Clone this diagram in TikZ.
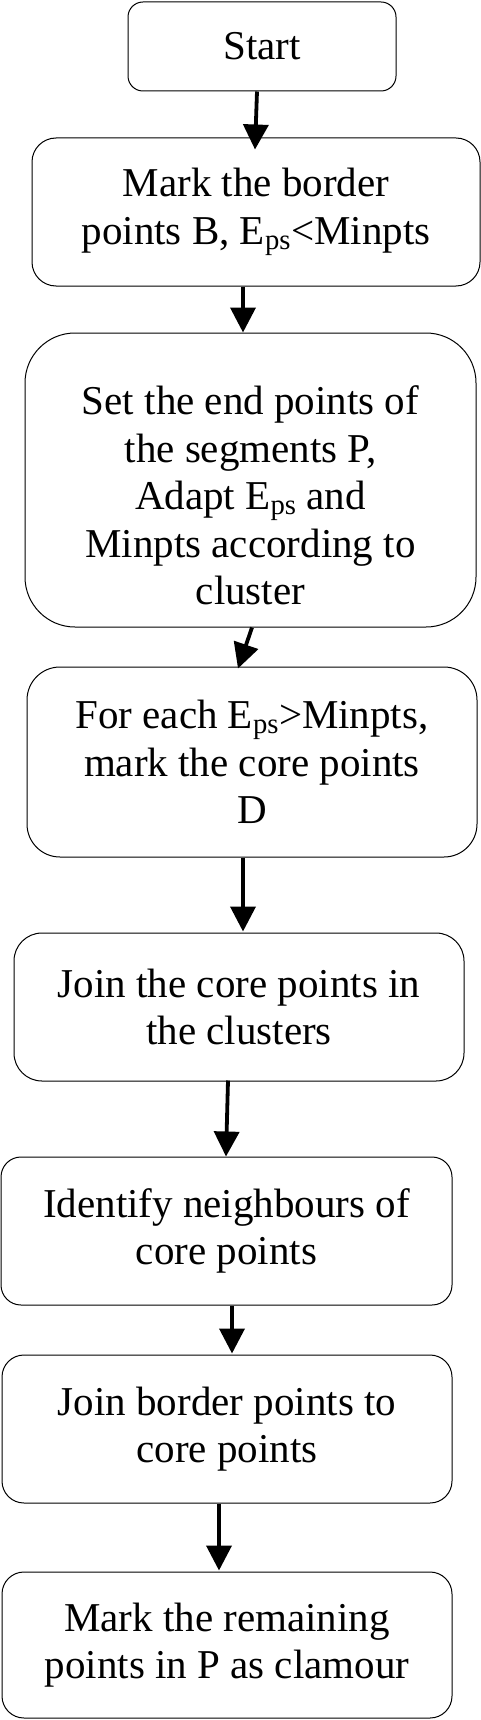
\documentclass[tikz,border=0pt]{standalone}
\usepackage{fontspec}
\setmainfont{Liberation Serif}
\usetikzlibrary{arrows.meta,calc}
\tikzset{
  flowbox/.style={draw=black, line width=1pt, rectangle, align=center,
    inner sep=0pt, font=\fontsize{41}{47.5}\selectfont},
  flowarrow/.style={line width=3.8pt, -{Triangle[length=25pt,width=25pt]}}
}
\newcommand{\Eps}{E\textsubscript{ps}}
\begin{document}
\begin{tikzpicture}[x=1pt,y=-1pt]
\useasboundingbox (0,0) rectangle (481,1720);
\node[flowbox, rounded corners=15pt, minimum width=268pt, minimum height=89pt] (b1) at (262,46.5) {Start};
\node[flowbox, rounded corners=24pt, minimum width=448pt, minimum height=148pt] (b2) at (256,212) {Mark the border\\points B, \Eps{}<Minpts};
\node[flowbox, rounded corners=50pt, minimum width=451pt, minimum height=294pt] (b3) at (250.5,480) {\rule{0pt}{60pt}Set the end points of\\the segments P,\\Adapt \Eps{} and\\Minpts according to\\cluster};
\node[flowbox, rounded corners=33pt, minimum width=450pt, minimum height=190pt] (b4) at (252,762) {For each \Eps{}>Minpts,\\mark the core points\\D};
\node[flowbox, rounded corners=28pt, minimum width=450pt, minimum height=148pt] (b5) at (239,1007) {Join the core points in\\the clusters};
\node[flowbox, rounded corners=20pt, minimum width=451pt, minimum height=148pt] (b6) at (226.5,1231) {Identify neighbours of\\core points};
\node[flowbox, rounded corners=22pt, minimum width=450pt, minimum height=148pt] (b7) at (227,1429) {Join border points to\\core points};
\node[flowbox, rounded corners=22pt, minimum width=450pt, minimum height=146pt] (b8) at (227,1645) {Mark the remaining\\points in P as clamour};
\draw[flowarrow] ($(b1.south)+(-5,0)$) -- ($(b2.north)+(-1,12)$);
\draw[flowarrow] ($(b2.south)+(-13,0)$) -- ($(b3.north)+(-7.5,0)$);
\draw[flowarrow] ($(b3.south)+(1.5,0)$) -- ($(b4.north)+(-14,2)$);
\draw[flowarrow] ($(b4.south)+(-9,0)$) -- ($(b5.north)+(4,-1)$);
\draw[flowarrow] ($(b5.south)+(-11,-1)$) -- ($(b6.north)+(-0.5,0)$);
\draw[flowarrow] ($(b6.south)+(5.5,0)$) -- ($(b7.north)+(5,-1)$);
\draw[flowarrow] ($(b7.south)+(-8,0)$) -- ($(b8.north)+(-8,-1)$);
\end{tikzpicture}
\end{document}
